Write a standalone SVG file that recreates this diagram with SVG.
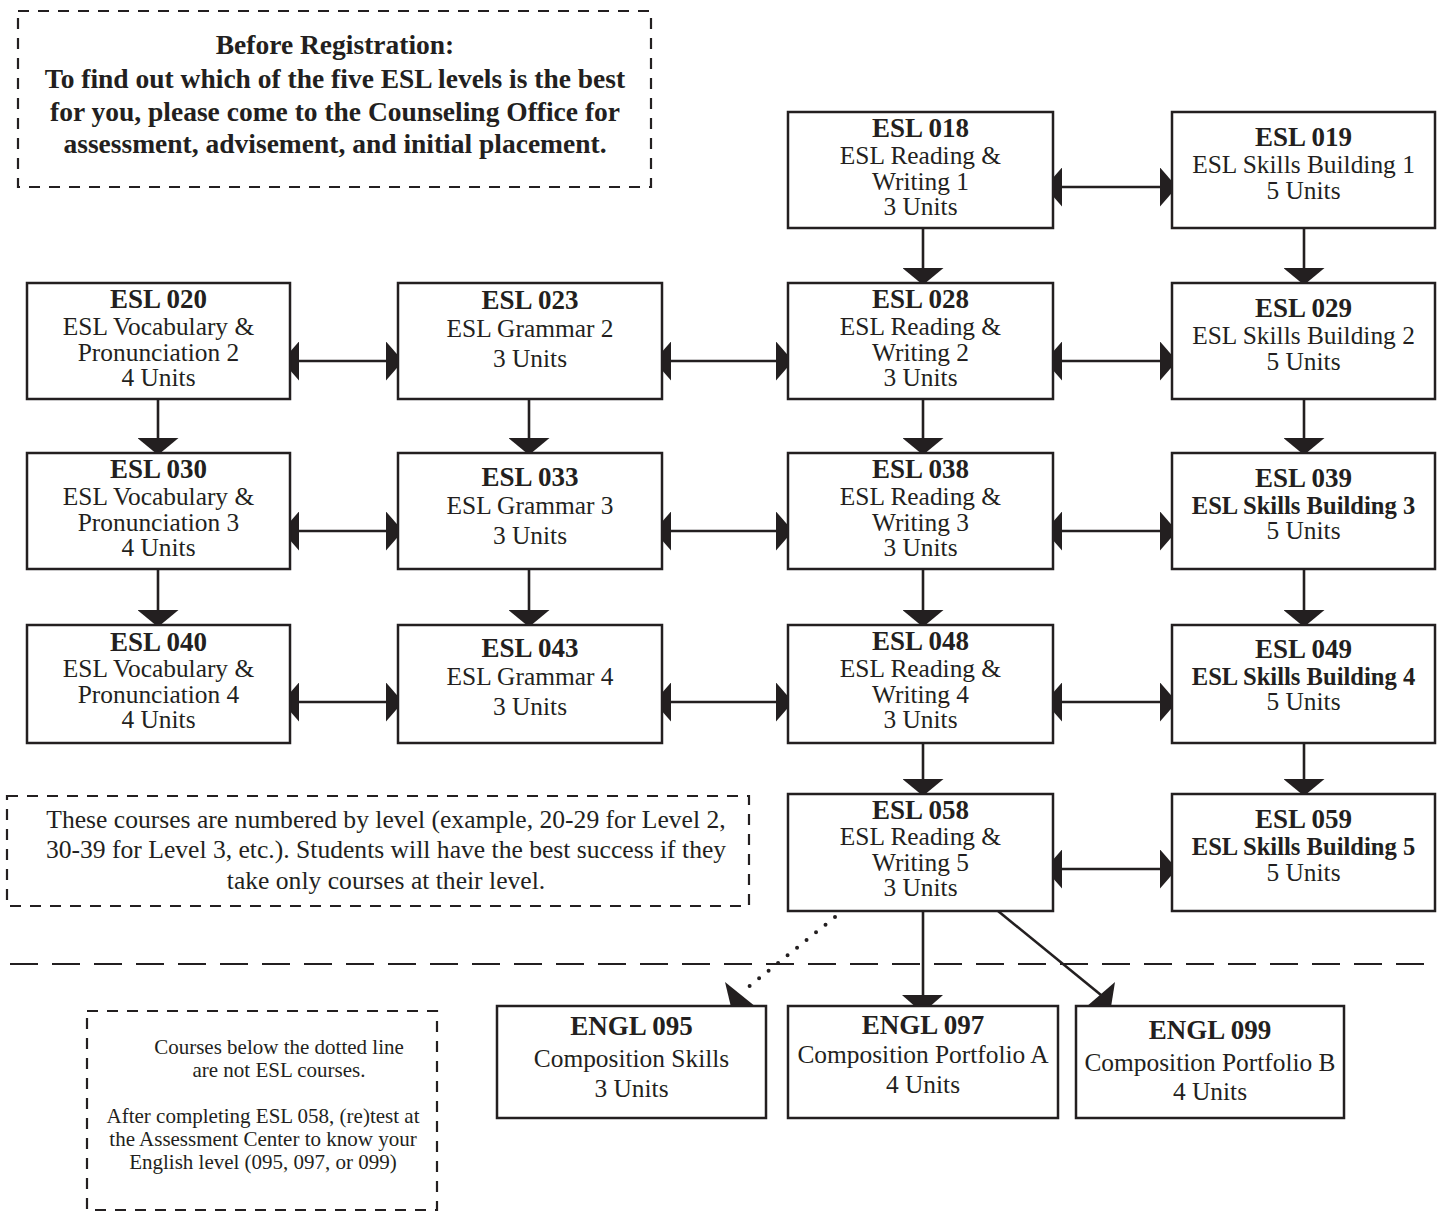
<svg xmlns="http://www.w3.org/2000/svg" width="1443" height="1213" viewBox="0 0 1443 1213">
<style>
text{font-family:"Liberation Serif","Times New Roman",serif;fill:#231f20;text-anchor:middle}
.t{font-size:27px;font-weight:bold}
.r{font-size:25.4px}
.b{font-size:24.6px;font-weight:bold}
.box{fill:#fff;stroke:#231f20;stroke-width:2.5}
.note{fill:none;stroke:#231f20;stroke-width:2.2;stroke-dasharray:11 9}
.nt{font-size:27.5px;font-weight:bold}
.mt{font-size:25.6px}
.st{font-size:21px}
.ln{stroke:#231f20;stroke-width:2.6;fill:none}
.hd{fill:#231f20}
</style>
<defs>
<marker id="ah" viewBox="0 0 17 39" refX="17" refY="19.5" markerUnits="userSpaceOnUse" markerWidth="17" markerHeight="39" orient="auto-start-reverse"><path d="M0,0 L17,19.5 L0,39 Z" fill="#231f20"/></marker>
<marker id="av" viewBox="0 0 17 41" refX="17" refY="20.5" markerUnits="userSpaceOnUse" markerWidth="17" markerHeight="41" orient="auto"><path d="M0,0 L17,20.5 L0,41 Z" fill="#231f20"/></marker>
</defs>
<rect width="1443" height="1213" fill="#fff"/>

<g id="note-top">
<rect class="note" x="18" y="11" width="633" height="176"/>
<text class="nt" x="335" y="54">Before Registration:</text>
<text class="nt" x="335" y="88">To find out which of the five ESL levels is the best</text>
<text class="nt" x="335" y="121">for you, please come to the Counseling Office for</text>
<text class="nt" x="335" y="153">assessment, advisement, and initial placement.</text>
</g>

<g id="note-mid">
<rect class="note" x="7" y="796" width="742" height="110"/>
<text class="mt" x="386" y="828">These courses are numbered by level (example, 20-29 for Level 2,</text>
<text class="mt" x="386" y="858">30-39 for Level 3, etc.). Students will have the best success if they</text>
<text class="mt" x="386" y="889">take only courses at their level.</text>
</g>

<g id="note-bottom">
<rect class="note" x="87" y="1011" width="350" height="199"/>
<text class="st" x="279" y="1054">Courses below the dotted line</text>
<text class="st" x="279" y="1077">are not ESL courses.</text>
<text class="st" x="263" y="1123">After completing ESL 058, (re)test at</text>
<text class="st" x="263" y="1146">the Assessment Center to know your</text>
<text class="st" x="263" y="1169">English level (095, 097, or 099)</text>
</g>

<g id="separator">
<line x1="10" y1="964" x2="1436" y2="964" stroke="#231f20" stroke-width="2.2" stroke-dasharray="28 14"/>
</g>

<g id="connectors">
<line class="ln" x1="1045" y1="187" x2="1177" y2="187" marker-start="url(#ah)" marker-end="url(#ah)"/>
<line class="ln" x1="282" y1="361" x2="403" y2="361" marker-start="url(#ah)" marker-end="url(#ah)"/>
<line class="ln" x1="654" y1="361" x2="793" y2="361" marker-start="url(#ah)" marker-end="url(#ah)"/>
<line class="ln" x1="1045" y1="361" x2="1177" y2="361" marker-start="url(#ah)" marker-end="url(#ah)"/>
<line class="ln" x1="282" y1="531" x2="403" y2="531" marker-start="url(#ah)" marker-end="url(#ah)"/>
<line class="ln" x1="654" y1="531" x2="793" y2="531" marker-start="url(#ah)" marker-end="url(#ah)"/>
<line class="ln" x1="1045" y1="531" x2="1177" y2="531" marker-start="url(#ah)" marker-end="url(#ah)"/>
<line class="ln" x1="282" y1="702" x2="403" y2="702" marker-start="url(#ah)" marker-end="url(#ah)"/>
<line class="ln" x1="654" y1="702" x2="793" y2="702" marker-start="url(#ah)" marker-end="url(#ah)"/>
<line class="ln" x1="1045" y1="702" x2="1177" y2="702" marker-start="url(#ah)" marker-end="url(#ah)"/>
<line class="ln" x1="1045" y1="869" x2="1177" y2="869" marker-start="url(#ah)" marker-end="url(#ah)"/>
<line class="ln" x1="923" y1="228" x2="923" y2="285" marker-end="url(#av)"/>
<line class="ln" x1="1304" y1="228" x2="1304" y2="285" marker-end="url(#av)"/>
<line class="ln" x1="158" y1="399" x2="158" y2="455" marker-end="url(#av)"/>
<line class="ln" x1="529" y1="399" x2="529" y2="455" marker-end="url(#av)"/>
<line class="ln" x1="923" y1="399" x2="923" y2="455" marker-end="url(#av)"/>
<line class="ln" x1="1304" y1="399" x2="1304" y2="455" marker-end="url(#av)"/>
<line class="ln" x1="158" y1="569" x2="158" y2="627" marker-end="url(#av)"/>
<line class="ln" x1="529" y1="569" x2="529" y2="627" marker-end="url(#av)"/>
<line class="ln" x1="923" y1="569" x2="923" y2="627" marker-end="url(#av)"/>
<line class="ln" x1="1304" y1="569" x2="1304" y2="627" marker-end="url(#av)"/>
<line class="ln" x1="923" y1="743" x2="923" y2="796" marker-end="url(#av)"/>
<line class="ln" x1="1304" y1="743" x2="1304" y2="796" marker-end="url(#av)"/>
<line x1="835" y1="917" x2="741" y2="993" stroke="#231f20" stroke-width="4" stroke-linecap="round" stroke-dasharray="0 12.2"/>
<polygon class="hd" points="725,982 756,1007 731,1007"/>
<line class="ln" x1="923" y1="911" x2="923" y2="996"/>
<polygon class="hd" points="902,995 943,995 922.5,1013"/>
<line class="ln" x1="998" y1="911" x2="1101" y2="995"/>
<polygon class="hd" points="1115,982 1086,1007 1111,1007"/>
</g>

<g id="esl018"><rect class="box" x="788" y="112" width="265" height="116"/>
<text class="t" x="920.5" y="137">ESL 018</text><text class="r" x="920.5" y="164">ESL Reading &amp;</text><text class="r" x="920.5" y="190">Writing 1</text><text class="r" x="920.5" y="215">3 Units</text></g>
<g id="esl019"><rect class="box" x="1172" y="112" width="263" height="116"/>
<text class="t" x="1303.5" y="146">ESL 019</text><text class="r" x="1303.5" y="173">ESL Skills Building 1</text><text class="r" x="1303.5" y="199">5 Units</text></g>

<g id="esl020"><rect class="box" x="27" y="283" width="263" height="116"/>
<text class="t" x="158.5" y="308">ESL 020</text><text class="r" x="158.5" y="335">ESL Vocabulary &amp;</text><text class="r" x="158.5" y="361">Pronunciation 2</text><text class="r" x="158.5" y="386">4 Units</text></g>
<g id="esl023"><rect class="box" x="398" y="283" width="264" height="116"/>
<text class="t" x="530" y="309">ESL 023</text><text class="r" x="530" y="337">ESL Grammar 2</text><text class="r" x="530" y="367">3 Units</text></g>
<g id="esl028"><rect class="box" x="788" y="283" width="265" height="116"/>
<text class="t" x="920.5" y="308">ESL 028</text><text class="r" x="920.5" y="335">ESL Reading &amp;</text><text class="r" x="920.5" y="361">Writing 2</text><text class="r" x="920.5" y="386">3 Units</text></g>
<g id="esl029"><rect class="box" x="1172" y="283" width="263" height="116"/>
<text class="t" x="1303.5" y="317">ESL 029</text><text class="r" x="1303.5" y="344">ESL Skills Building 2</text><text class="r" x="1303.5" y="370">5 Units</text></g>

<g id="esl030"><rect class="box" x="27" y="453" width="263" height="116"/>
<text class="t" x="158.5" y="478">ESL 030</text><text class="r" x="158.5" y="505">ESL Vocabulary &amp;</text><text class="r" x="158.5" y="531">Pronunciation 3</text><text class="r" x="158.5" y="556">4 Units</text></g>
<g id="esl033"><rect class="box" x="398" y="453" width="264" height="116"/>
<text class="t" x="530" y="486">ESL 033</text><text class="r" x="530" y="514">ESL Grammar 3</text><text class="r" x="530" y="544">3 Units</text></g>
<g id="esl038"><rect class="box" x="788" y="453" width="265" height="116"/>
<text class="t" x="920.5" y="478">ESL 038</text><text class="r" x="920.5" y="505">ESL Reading &amp;</text><text class="r" x="920.5" y="531">Writing 3</text><text class="r" x="920.5" y="556">3 Units</text></g>
<g id="esl039"><rect class="box" x="1172" y="453" width="263" height="116"/>
<text class="t" x="1303.5" y="487">ESL 039</text><text class="b" x="1303.5" y="514">ESL Skills Building 3</text><text class="r" x="1303.5" y="539">5 Units</text></g>

<g id="esl040"><rect class="box" x="27" y="625" width="263" height="118"/>
<text class="t" x="158.5" y="651">ESL 040</text><text class="r" x="158.5" y="677">ESL Vocabulary &amp;</text><text class="r" x="158.5" y="703">Pronunciation 4</text><text class="r" x="158.5" y="728">4 Units</text></g>
<g id="esl043"><rect class="box" x="398" y="625" width="264" height="118"/>
<text class="t" x="530" y="657">ESL 043</text><text class="r" x="530" y="685">ESL Grammar 4</text><text class="r" x="530" y="715">3 Units</text></g>
<g id="esl048"><rect class="box" x="788" y="625" width="265" height="118"/>
<text class="t" x="920.5" y="650">ESL 048</text><text class="r" x="920.5" y="677">ESL Reading &amp;</text><text class="r" x="920.5" y="703">Writing 4</text><text class="r" x="920.5" y="728">3 Units</text></g>
<g id="esl049"><rect class="box" x="1172" y="625" width="263" height="118"/>
<text class="t" x="1303.5" y="658">ESL 049</text><text class="b" x="1303.5" y="685">ESL Skills Building 4</text><text class="r" x="1303.5" y="710">5 Units</text></g>

<g id="esl058"><rect class="box" x="788" y="794" width="265" height="117"/>
<text class="t" x="920.5" y="819">ESL 058</text><text class="r" x="920.5" y="845">ESL Reading &amp;</text><text class="r" x="920.5" y="871">Writing 5</text><text class="r" x="920.5" y="896">3 Units</text></g>
<g id="esl059"><rect class="box" x="1172" y="794" width="263" height="117"/>
<text class="t" x="1303.5" y="828">ESL 059</text><text class="b" x="1303.5" y="855">ESL Skills Building 5</text><text class="r" x="1303.5" y="881">5 Units</text></g>

<g id="engl095"><rect class="box" x="497" y="1006" width="269" height="112"/>
<text class="t" x="631.5" y="1035">ENGL 095</text><text class="r" x="631.5" y="1067">Composition Skills</text><text class="r" x="631.5" y="1097">3 Units</text></g>
<g id="engl097"><rect class="box" x="788" y="1006" width="270" height="112"/>
<text class="t" x="923" y="1034">ENGL 097</text><text class="r" x="923" y="1063">Composition Portfolio A</text><text class="r" x="923" y="1093">4 Units</text></g>
<g id="engl099"><rect class="box" x="1076" y="1006" width="268" height="112"/>
<text class="t" x="1210" y="1039">ENGL 099</text><text class="r" x="1210" y="1071">Composition Portfolio B</text><text class="r" x="1210" y="1100">4 Units</text></g>
</svg>
